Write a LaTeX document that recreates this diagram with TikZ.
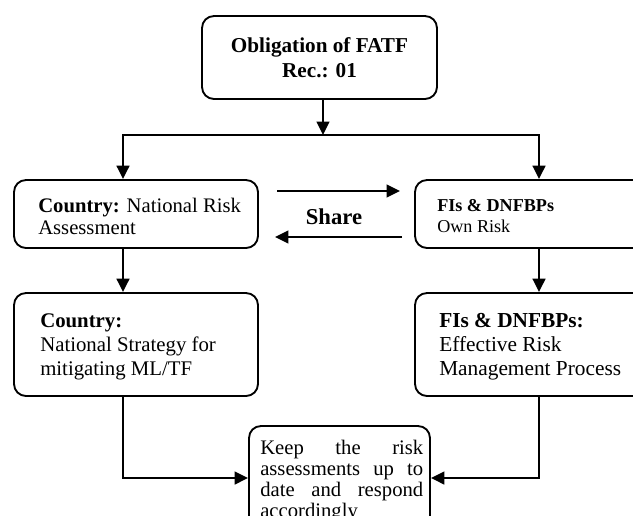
\documentclass[tikz,border=0pt]{standalone}
\usepackage{fontspec}
\setmainfont{Liberation Serif}
\usetikzlibrary{arrows.meta}

\begin{document}
\begin{tikzpicture}[x=0.75pt,y=0.75pt,yscale=-1,xscale=1,
  box/.style={draw, rounded corners=9pt, line width=1.4pt, inner sep=0pt},
  txt/.style={anchor=base west, inner sep=0pt, align=left},
  flow/.style={line width=1.6pt, -{Triangle[length=10pt,width=9.5pt]}}]
\useasboundingbox (0,0) rectangle (633,515);

%Shape: Rounded Rect [id:obl]
\node [box, align=center, minimum width=176.25pt, minimum height=62.25pt, font=\fontsize{15.9}{18.75}\selectfont\bfseries] (obl) at (319.5,57.5) {Obligation of FATF\\Rec.: 01};
%Shape: Rounded Rect [id:nra]
\node [box, minimum width=183pt, minimum height=51pt] (nra) at (136,214) {};
%Shape: Rounded Rect [id:own]
\node [box, minimum width=183pt, minimum height=51pt] (own) at (537,214) {};
%Shape: Rounded Rect [id:strat]
\node [box, minimum width=183pt, minimum height=77.25pt] (strat) at (136,344.5) {};
%Shape: Rounded Rect [id:erm]
\node [box, minimum width=183pt, minimum height=77.25pt] (erm) at (537,344.5) {};
%Shape: Rounded Rect [id:keep]
\node [box, minimum width=135.75pt, minimum height=100.5pt] (keep) at (339.5,493) {};

% Text Node (anchored at the baseline of the last line)
\node [txt, font=\fontsize{15.5}{16.5}\selectfont] (nratxt) at (38,234) {\textbf{Country:} National Risk\\Assessment};
% Text Node
\node [txt, font=\fontsize{13.6}{15.75}\selectfont] (owntxt) at (437,232) {\textbf{FIs \& DNFBPs}\\Own Risk};
% Text Node
\node [txt, font=\fontsize{15.6}{18}\selectfont] (strattxt) at (40,375) {\textbf{Country:}\\National Strategy for\\mitigating ML/TF};
% Text Node
\node [txt, font=\fontsize{16}{18}\selectfont] (ermtxt) at (439,375) {\textbf{FIs \& DNFBPs:}\\Effective Risk\\Management Process};
% Text Node
\node [txt, font=\fontsize{15.5}{15.75}\selectfont] (keeptxt) at (260,517) {\makebox[122.25pt]{Keep\hfill the\hfill risk}\\\makebox[122.25pt]{assessments\hfill up\hfill to}\\\makebox[122.25pt]{date\hfill and\hfill respond}\\accordingly};

%Shape: Lines [id:split]
\coordinate (split) at (323,135);
\coordinate (lturn) at (123,135);
\coordinate (rturn) at (539,135);
\coordinate (meet) at (339.5,478);
\draw [flow] (obl.south -| split) -- (split);
\draw [line width=1.6pt, line cap=rect] (lturn) -- (rturn);
\draw [flow] (lturn) -- (lturn |- nra.north);
\draw [flow] (rturn) -- (rturn |- own.north);
\draw [flow] (lturn |- nra.south) -- (lturn |- strat.north);
\draw [flow] (rturn |- own.south) -- (rturn |- erm.north);
\draw [flow] (lturn |- strat.south) |- (keep.west |- meet);
\draw [flow] (rturn |- erm.south) |- (keep.east |- meet);

%Shape: Arrows [id:share]
\coordinate (shareA) at (277,191);
\coordinate (shareB) at (400,191);
\coordinate (shareC) at (402,237);
\coordinate (shareD) at (275,237);
\draw [flow] (shareA) -- (shareB);
\draw [flow] (shareC) -- (shareD);

% Text Node
\node [font=\fontsize{17}{20}\selectfont\bfseries] (share) at (334,217) {Share};

\end{tikzpicture}
\end{document}
